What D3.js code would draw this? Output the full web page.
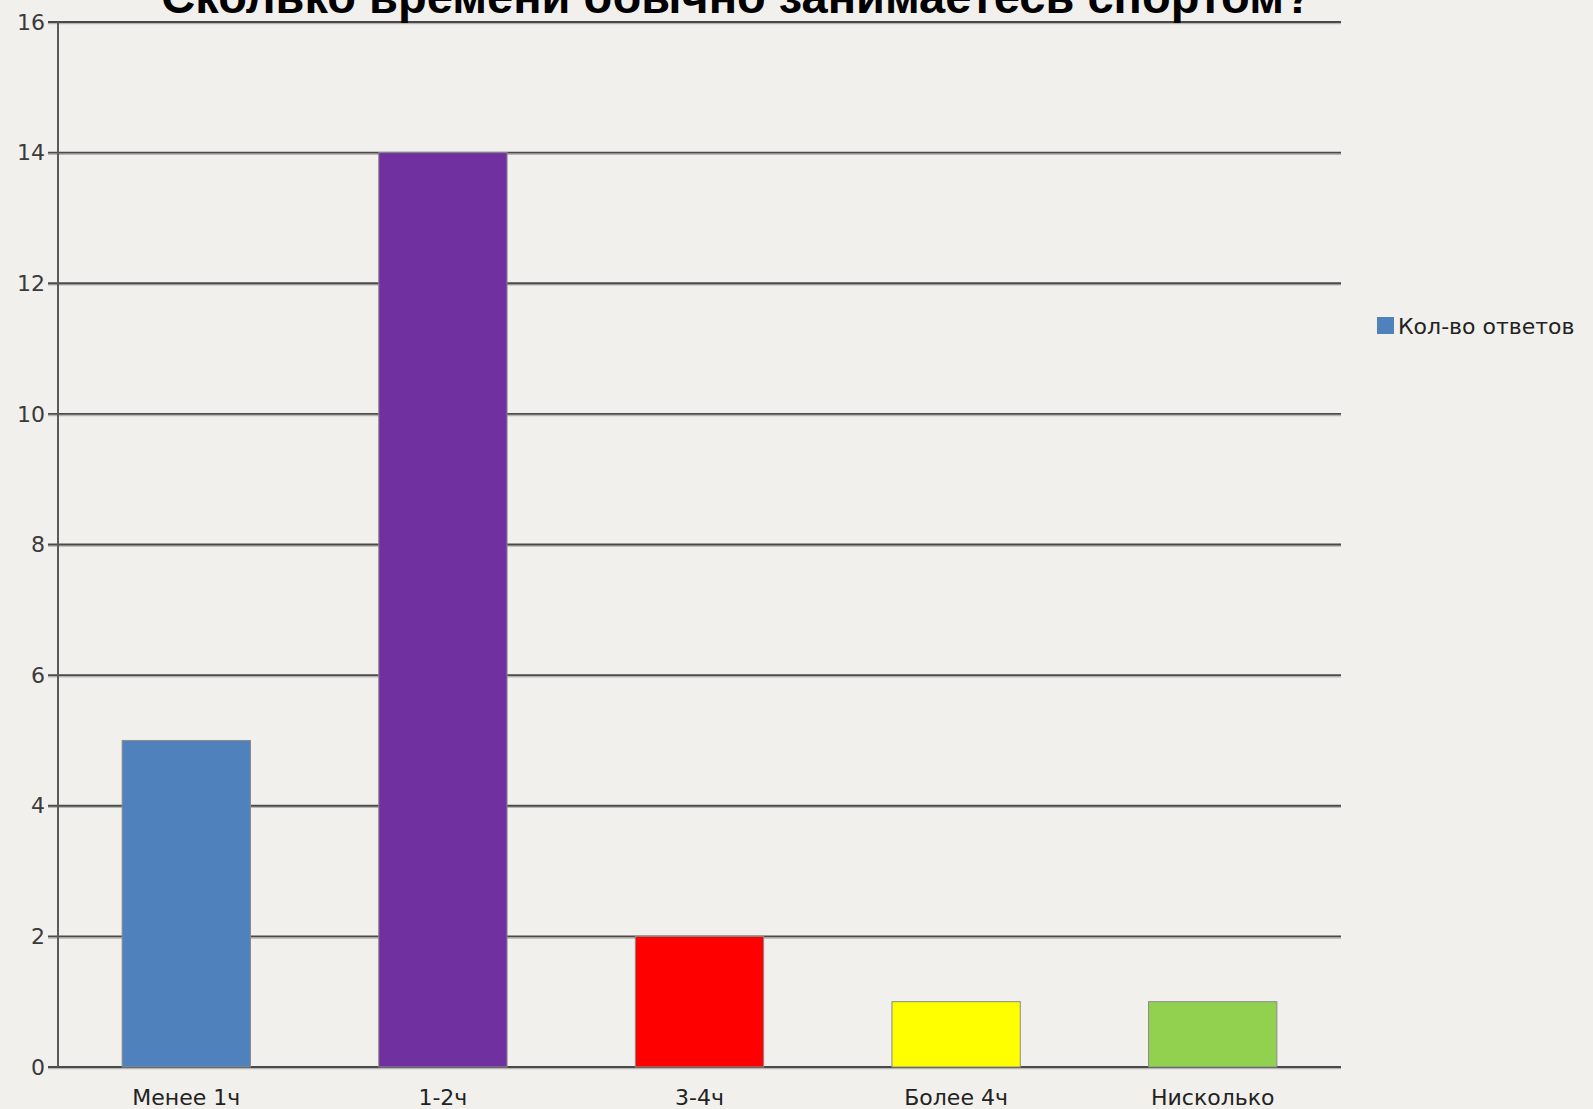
<!DOCTYPE html>
<html>
<head>
<meta charset="utf-8">
<script src="https://cdn.jsdelivr.net/npm/d3@7"></script>
<style>
  html, body { margin: 0; padding: 0; background: #f1f0ec; }
  svg { display: block; }
</style>
</head>
<body>
<div id="chart"></div>
<script>
const TITLE = 'Сколько времени обычно занимаетесь спортом?';
const CATEGORIES = ['Менее 1ч', '1-2ч', '3-4ч', 'Более 4ч', 'Нисколько'];
const VALUES = [5, 14, 2, 1, 1];
const BAR_COLORS = ['#4f81bd', '#7030a0', '#ff0000', '#ffff00', '#92d050'];
const Y_TICKS = [0, 2, 4, 6, 8, 10, 12, 14, 16];
const SERIES_NAME = 'Кол-во ответов';

const W = 1593, H = 1109;
const margin = { top: 22, right: 252, bottom: 42, left: 58 };
const width = W - margin.left - margin.right;
const height = H - margin.top - margin.bottom;
const LABEL_FONT = 'DejaVu Sans, Verdana, sans-serif';

const svg = d3.select('#chart').append('svg')
    .attr('width', W)
    .attr('height', H);

svg.append('rect')
    .attr('width', W).attr('height', H)
    .attr('fill', '#f1f0ec');

const g = svg.append('g')
    .attr('transform', `translate(${margin.left},${margin.top})`);

const x = d3.scaleBand()
    .domain(CATEGORIES)
    .range([0, width])
    .paddingInner(0.5)
    .paddingOuter(0.25);

const y = d3.scaleLinear()
    .domain([0, 16])
    .range([height, 0]);

// gridlines (with a soft shadow line underneath)
g.append('g')
    .selectAll('line')
    .data(Y_TICKS)
    .join('line')
    .attr('x1', -10).attr('x2', width)
    .attr('y1', d => y(d) + 1.5).attr('y2', d => y(d) + 1.5)
    .attr('stroke', '#b8b6b2')
    .attr('stroke-width', 1.5);

g.append('g')
    .selectAll('line')
    .data(Y_TICKS)
    .join('line')
    .attr('x1', -10).attr('x2', width)
    .attr('y1', d => y(d)).attr('y2', d => y(d))
    .attr('stroke', '#4a4a4a')
    .attr('stroke-width', 1.8);

// bars
g.selectAll('.bar')
    .data(VALUES)
    .join('rect')
    .attr('class', 'bar')
    .attr('x', (d, i) => x(CATEGORIES[i]))
    .attr('y', d => y(d))
    .attr('width', x.bandwidth())
    .attr('height', d => y(0) - y(d))
    .attr('fill', (d, i) => BAR_COLORS[i])
    .attr('stroke', '#8a8a8a')
    .attr('stroke-width', 1);

// y axis line
g.append('line')
    .attr('x1', 0).attr('x2', 0)
    .attr('y1', 0).attr('y2', height)
    .attr('stroke', '#5a5a5a')
    .attr('stroke-width', 2);

// y tick labels
g.append('g')
    .selectAll('text')
    .data(Y_TICKS)
    .join('text')
    .attr('x', -13)
    .attr('y', d => y(d))
    .attr('dy', '0.35em')
    .attr('text-anchor', 'end')
    .style('font-family', LABEL_FONT)
    .style('font-size', '22px')
    .style('fill', '#3a3a3a')
    .text(d => d);

// x labels
g.append('g')
    .selectAll('text')
    .data(CATEGORIES)
    .join('text')
    .attr('x', d => x(d) + x.bandwidth() / 2)
    .attr('y', height + 38)
    .attr('text-anchor', 'middle')
    .style('font-family', LABEL_FONT)
    .style('font-size', '22px')
    .style('fill', '#222')
    .text(d => d);

// title (top cut off as in the original)
svg.append('text')
    .attr('x', 737)
    .attr('y', 13)
    .attr('text-anchor', 'middle')
    .style('font-family', 'Liberation Sans, Arial, sans-serif')
    .style('font-weight', 'bold')
    .style('font-size', '47px')
    .style('fill', '#000')
    .text(TITLE);

// legend
const legend = svg.append('g')
    .attr('transform', 'translate(1377,317)');
legend.append('rect')
    .attr('width', 17).attr('height', 17)
    .attr('fill', BAR_COLORS[0]);
legend.append('text')
    .attr('x', 21)
    .attr('y', 9)
    .attr('dy', '0.35em')
    .style('font-family', LABEL_FONT)
    .style('font-size', '22px')
    .style('fill', '#222')
    .text(SERIES_NAME);
</script>
</body>
</html>
